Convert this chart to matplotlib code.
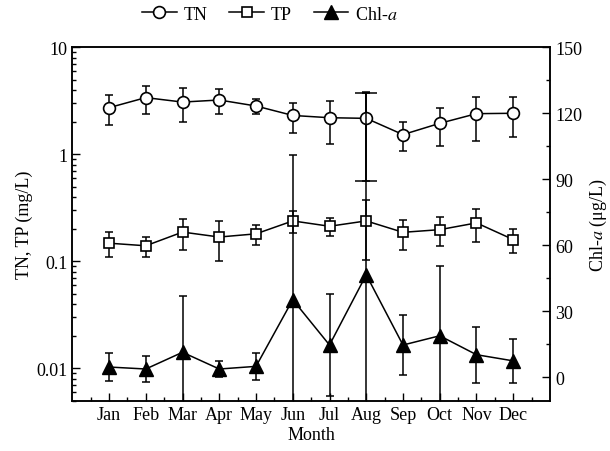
import matplotlib.pyplot as plt
from matplotlib.ticker import MultipleLocator, LogLocator, FuncFormatter, NullFormatter

plt.rcParams['font.family'] = 'Liberation Serif'
plt.rcParams['mathtext.fontset'] = 'stix'
plt.rcParams['font.size'] = 13

months = ['Jan', 'Feb', 'Mar', 'Apr', 'May', 'Jun',
          'Jul', 'Aug', 'Sep', 'Oct', 'Nov', 'Dec']

# monthly mean and standard deviation
tn = [2.73, 3.39, 3.08, 3.22, 2.83, 2.31, 2.20, 2.17, 1.53, 1.95, 2.40, 2.42]
tn_sd = [0.85, 1.00, 1.07, 0.86, 0.47, 0.73, 0.94, 1.60, 0.46, 0.74, 1.06, 0.98]
tp = [0.148, 0.140, 0.188, 0.169, 0.181, 0.239, 0.213, 0.239, 0.187, 0.198, 0.229, 0.160]
tp_sd = [0.039, 0.029, 0.059, 0.069, 0.038, 0.056, 0.039, 0.136, 0.059, 0.060, 0.078, 0.039]
chl = [4.7, 3.8, 11.4, 3.8, 5.0, 35.3, 14.7, 46.6, 14.7, 18.9, 10.3, 7.5]
chl_sd = [6.3, 5.9, 25.7, 3.6, 6.2, 65.9, 23.2, 83.0, 13.7, 31.8, 12.8, 10.0]

x = list(range(1, 13))
lw = 1.1
cap = 3

fig = plt.figure(figsize=(6.1, 4.52), dpi=100)
ax = fig.add_axes([0.1185, 0.1113, 0.7831, 0.7818])
ax2 = ax.twinx()

# TN / TP on the log axis
ax.errorbar(x, tn, yerr=tn_sd, fmt='none', ecolor='k', elinewidth=lw,
            capsize=cap, capthick=lw, zorder=2)
ax.errorbar([8], [tn[7]], yerr=[tn_sd[7]], fmt='none', ecolor='k',
            elinewidth=lw, capsize=8, capthick=lw, zorder=2)
ax.errorbar(x, tp, yerr=tp_sd, fmt='none', ecolor='k', elinewidth=lw,
            capsize=cap, capthick=lw, zorder=2)
h_tn, = ax.plot(x, tn, '-o', color='k', lw=lw, ms=8.5, mfc='white',
                mec='k', mew=1.2, zorder=3)
h_tp, = ax.plot(x, tp, '-s', color='k', lw=lw, ms=7.5, mfc='white',
                mec='k', mew=1.2, zorder=3)

# Chl-a on the right axis
ax2.errorbar(x, chl, yerr=chl_sd, fmt='none', ecolor='k', elinewidth=lw,
             capsize=cap, capthick=lw, zorder=2)
h_chl, = ax2.plot(x, chl, '-^', color='k', lw=lw, ms=10, mfc='k',
                  mec='k', zorder=3)

ax.set_yscale('log')
ax.set_ylim(0.005, 10)
ax.set_xlim(0, 13)
ax.yaxis.set_major_locator(LogLocator(base=10))
ax.yaxis.set_minor_locator(LogLocator(base=10, subs=range(2, 10)))
ax.yaxis.set_major_formatter(FuncFormatter(lambda v, p: f'{v:g}'))
ax.yaxis.set_minor_formatter(NullFormatter())
ax.set_xticks(x)
ax.set_xticklabels(months)
ax.set_xticks([i + 0.5 for i in range(0, 13)], minor=True)

ax2.set_ylim(-10.6, 150)
ax2.yaxis.set_major_locator(MultipleLocator(30))
ax2.yaxis.set_minor_locator(MultipleLocator(15))

for a in (ax, ax2):
    a.tick_params(which='both', direction='in', top=False, width=1)
    a.tick_params(which='major', length=5.5)
    a.tick_params(which='minor', length=3)
    for s in a.spines.values():
        s.set_linewidth(1.1)
ax.tick_params(axis='y', which='both', right=False)
ax.tick_params(axis='x', pad=4)
ax2.tick_params(axis='y', which='both', left=False, right=True, pad=4)

ax.set_xlabel('Month', labelpad=2)
ax.set_ylabel('TN, TP (mg/L)', labelpad=2)
ax2.set_ylabel('Chl-$a$ (μg/L)', labelpad=4)

fig.legend([h_tn, h_tp, h_chl], ['TN', 'TP', 'Chl-$a$'], loc='center',
           bbox_to_anchor=(270 / 610, 1 - 15 / 452), ncol=3, frameon=False,
           handlelength=1.9, handletextpad=0.4, columnspacing=1.2,
           borderaxespad=0)

fig.savefig('out.png', dpi=100)
